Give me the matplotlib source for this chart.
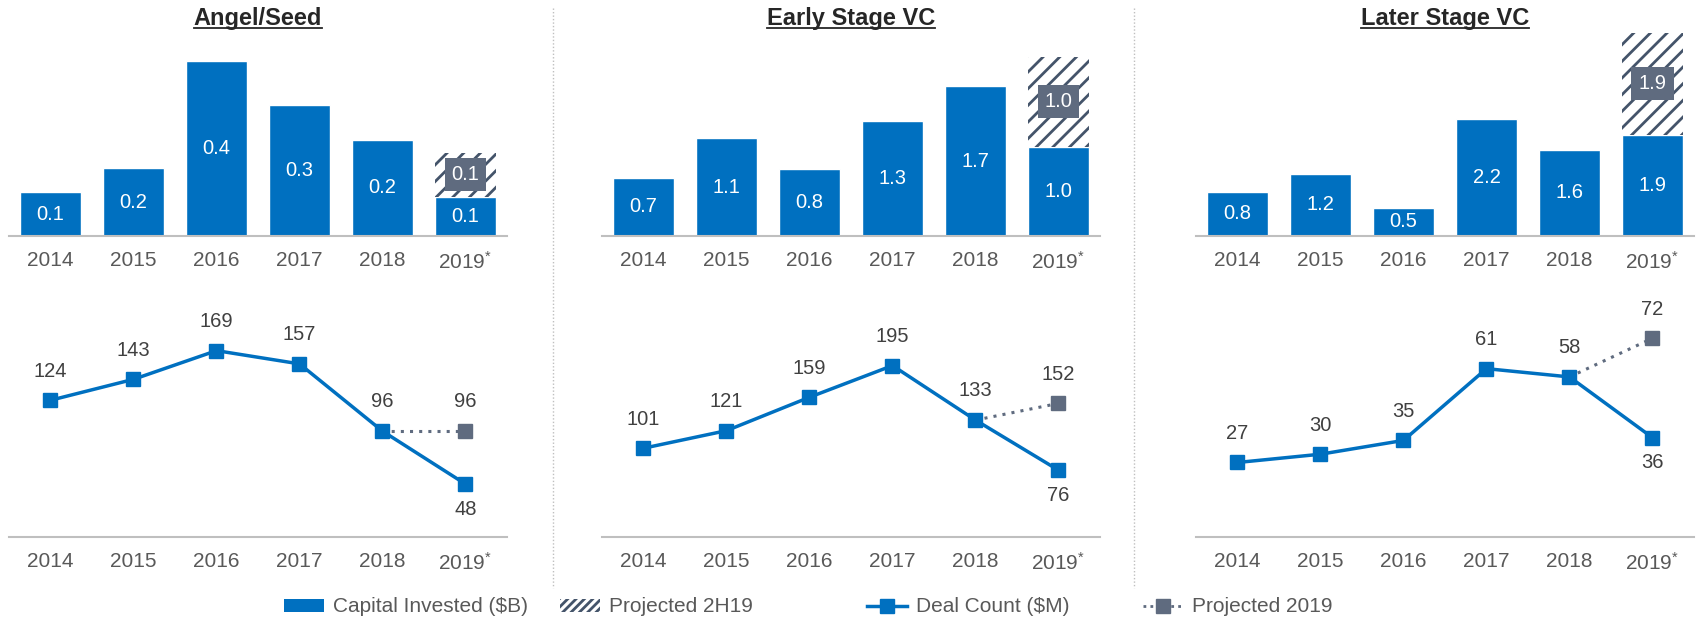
import matplotlib.pyplot as plt
from matplotlib.lines import Line2D
from matplotlib.patches import Patch
import numpy as np

plt.rcParams['font.family'] = ['Liberation Sans', 'DejaVu Sans']
plt.rcParams['mathtext.fontset'] = 'custom'
plt.rcParams['mathtext.rm'] = 'Liberation Sans'
plt.rcParams['mathtext.it'] = 'Liberation Sans'
plt.rcParams['hatch.linewidth'] = 2.0

# data
years = ['2014', '2015', '2016', '2017', '2018', '2019$^{*}$']
titles = ['Angel/Seed', 'Early Stage VC', 'Later Stage VC']

angel_capital = [0.10, 0.155, 0.40, 0.30, 0.22, 0.09]
angel_proj = 0.10
angel_deals = [124, 143, 169, 157, 96, 48]
angel_deals_proj = 96

early_capital = [0.66, 1.11, 0.76, 1.31, 1.70, 1.01]
early_proj = 1.03
early_deals = [101, 121, 159, 195, 133, 76]
early_deals_proj = 152

later_capital = [0.83, 1.17, 0.53, 2.20, 1.62, 1.90]
later_proj = 1.92
later_deals = [27, 30, 35, 61, 58, 36]
later_deals_proj = 72

panels = [
    (angel_capital, angel_proj, angel_deals, angel_deals_proj, 0.468, 224),
    (early_capital, early_proj, early_deals, early_deals_proj, 2.33, 281),
    (later_capital, later_proj, later_deals, later_deals_proj, 3.85, 89.5),
]

blue = '#0070C0'
slate = '#5F6B7F'
hatch_col = '#44546A'
grey_txt = '#595959'
axis_col = '#BFBFBF'

W, H = 1699, 621
fig = plt.figure(figsize=(W / 100, H / 100), dpi=100)

lefts = [9, 602, 1196]
pw = 498
x = np.arange(len(years))


def style(ax):
    for s in ['top', 'left', 'right']:
        ax.spines[s].set_visible(False)
    ax.spines['bottom'].set_color(axis_col)
    ax.spines['bottom'].set_linewidth(1.5)
    ax.set_yticks([])
    ax.set_xticks(x)
    ax.set_xticklabels(years, fontsize=15, color=grey_txt)
    ax.tick_params(axis='x', length=0, pad=11)
    ax.set_xlim(-0.5, len(years) - 0.5)
    ax.patch.set_alpha(0)


titles_txt = []
for i, (cap, proj, deals, dproj, bar_top, line_top) in enumerate(panels):
    l = lefts[i] / W
    axb = fig.add_axes([l, (H - 236) / H, pw / W, 205 / H])
    axl = fig.add_axes([l, (H - 537) / H, pw / W, 247 / H])
    style(axb)
    style(axl)

    # bars
    axb.bar(x, cap, width=0.74, color=blue, edgecolor='white', linewidth=1)
    axb.bar(x[-1], proj, bottom=cap[-1], width=0.74, color='white',
            edgecolor=hatch_col, hatch='//', linewidth=0)
    for xi, v in zip(x, cap):
        axb.text(xi, v / 2, f'{v:.1f}', ha='center', va='center',
                 color='white', fontsize=14.5)
    axb.text(x[-1], cap[-1] + proj / 2, f'{proj:.1f}', ha='center', va='center',
             color='white', fontsize=14.5,
             bbox=dict(boxstyle='square,pad=0.35', fc=slate, ec='none'))
    axb.set_ylim(0, bar_top)

    # deal count lines
    axl.plot([x[-2], x[-1]], [deals[-2], dproj], color=slate, lw=2.2,
             ls=(0, (1, 2)), zorder=2)
    axl.plot(x[-1], dproj, marker='s', ms=10, color=slate, zorder=3, ls='none')
    axl.plot(x, deals, color=blue, lw=2.5, marker='s', ms=10, zorder=4)
    for xi, v in zip(x[:-1], deals[:-1]):
        axl.annotate(str(v), (xi, v), xytext=(0, 21), textcoords='offset points',
                     ha='center', va='center', fontsize=14.5, color='#404040')
    axl.annotate(str(deals[-1]), (x[-1], deals[-1]), xytext=(0, -18),
                 textcoords='offset points', ha='center', va='center',
                 fontsize=14.5, color='#404040')
    axl.annotate(str(dproj), (x[-1], dproj), xytext=(0, 21),
                 textcoords='offset points', ha='center', va='center',
                 fontsize=14.5, color='#404040')
    axl.set_ylim(0, line_top)

    t = fig.text(l + pw / W / 2, 1 - 18 / H, titles[i], ha='center', va='center',
                 fontsize=17, fontweight='bold', color='#262626')
    titles_txt.append(t)

# dotted separators
for sx in [553, 1134]:
    fig.add_artist(Line2D([sx / W, sx / W], [1 - 8 / H, 1 - 588 / H],
                          color=axis_col, lw=1, ls=(0, (1, 1.5))))

# legend, one entry each so they sit where the original has them
handles = [
    Patch(facecolor=blue, edgecolor='none'),
    Patch(facecolor='white', edgecolor=hatch_col, hatch='////', linewidth=0),
    Line2D([], [], color=blue, lw=2.5, marker='s', ms=10),
    Line2D([], [], color=slate, lw=2, ls=(0, (1, 1.5)), marker='s', ms=10),
]
labels = ['Capital Invested ($B)', 'Projected 2H19', 'Deal Count ($M)', 'Projected 2019']
labels = [s.replace('$', r'\$') for s in labels]
leg_x = [284, 560, 867, 1143]
for h, lab, lx in zip(handles, labels, leg_x):
    leg = fig.legend([h], [lab], loc='center left',
                     bbox_to_anchor=(lx / W, 1 - 607 / H),
                     frameon=False, handlelength=1.9, handleheight=0.6,
                     handletextpad=0.45, borderpad=0, borderaxespad=0,
                     fontsize=15, labelcolor=grey_txt)

# underline the titles
fig.canvas.draw()
inv = fig.transFigure.inverted()
for t in titles_txt:
    bb = t.get_window_extent()
    (x0, y0), (x1, y1) = inv.transform([[bb.x0, bb.y0], [bb.x1, bb.y1]])
    fig.add_artist(Line2D([x0, x1], [y0 + 0.002, y0 + 0.002], color='#262626', lw=1.3))

fig.savefig('out.png', dpi=100)
